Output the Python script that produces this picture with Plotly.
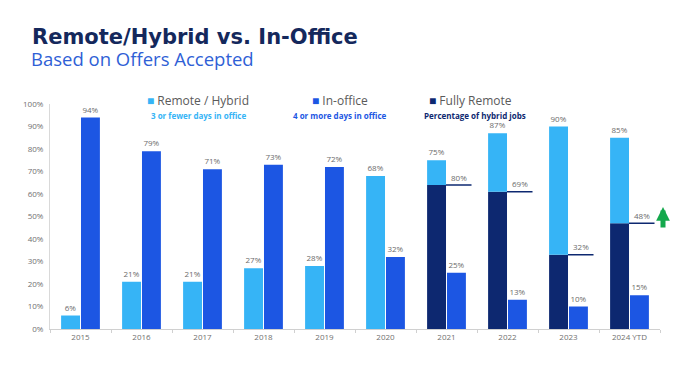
import plotly.graph_objects as go

categories = ["2015", "2016", "2017", "2018", "2019", "2020", "2021", "2022", "2023", "2024 YTD"]
remote_hybrid_total = [6, 21, 21, 27, 28, 68, 75, 87, 90, 85]
in_office = [94, 79, 71, 73, 72, 32, 25, 13, 10, 15]
fully_remote_height = [0, 0, 0, 0, 0, 0, 64, 61, 33, 47]
fully_remote_label = [None, None, None, None, None, None, 80, 69, 32, 48]
y_ticks = [0, 10, 20, 30, 40, 50, 60, 70, 80, 90, 100]

LIGHT = "#36b4f6"
MID = "#1c56e3"
NAVY = "#0d2870"
GREEN = "#14a84c"
LABEL = "#6b6b6b"
FONT = "Open Sans"

W = 0.31
OFF_L = -0.318
OFF_R = 0.008

fig = go.Figure()

fig.add_trace(go.Bar(
    x=categories, y=fully_remote_height, width=W, offset=OFF_L,
    marker=dict(color=NAVY, line=dict(width=0)), hoverinfo="skip", showlegend=False,
))
fig.add_trace(go.Bar(
    x=categories,
    y=[t - d for t, d in zip(remote_hybrid_total, fully_remote_height)],
    base=fully_remote_height, width=W, offset=OFF_L,
    marker=dict(color=LIGHT, line=dict(width=0)),
    text=[f"{t}%" for t in remote_hybrid_total], textposition="outside",
    textfont=dict(size=8, color=LABEL, family=FONT), constraintext="none",
    cliponaxis=False, hoverinfo="skip", showlegend=False,
))
fig.add_trace(go.Bar(
    x=categories, y=in_office, width=W, offset=OFF_R,
    marker=dict(color=MID, line=dict(width=0)),
    text=[f"{v}%" for v in in_office], textposition="outside",
    textfont=dict(size=8, color=LABEL, family=FONT), constraintext="none",
    cliponaxis=False, hoverinfo="skip", showlegend=False,
))

shapes = []
annotations = []
for i, (h, lab) in enumerate(zip(fully_remote_height, fully_remote_label)):
    if lab is None:
        continue
    shapes.append(dict(type="line", xref="x", yref="y", x0=i + OFF_L + W, x1=i + 0.41,
                       y0=h, y1=h, line=dict(color=NAVY, width=1.5)))
    annotations.append(dict(x=i + 0.21, y=h, xref="x", yref="y", text=f"{lab}%",
                            showarrow=False, yshift=8,
                            font=dict(size=8, color=LABEL, family=FONT)))

# page pixel -> paper coords (page has an 8px body margin)
def px(x):
    return (x - 50) / 610.0

def py(y):
    return (329 - y) / 225.0

# green up arrow (outside the axis range, so placed in paper coords)
annotations.append(dict(x=px(663), y=py(207), xref="paper", yref="paper",
                        ax=0, ay=22, axref="pixel", ayref="pixel",
                        text="", showarrow=True, arrowhead=2,
                        arrowsize=0.55, arrowwidth=5, arrowcolor=GREEN, standoff=0))

annotations.append(dict(x=px(30), y=py(37), xref="paper", yref="paper",
                        text="<b>Remote/Hybrid vs. In-Office</b>", showarrow=False,
                        xanchor="left", yanchor="middle",
                        font=dict(size=21, color="#14285c", family="DejaVu Sans")))
annotations.append(dict(x=px(29), y=py(58), xref="paper", yref="paper",
                        text="Based on Offers Accepted", showarrow=False,
                        xanchor="left", yanchor="middle",
                        font=dict(size=18.5, color="#2f5fd6", family=FONT)))

legend_items = [
    (145, 101, LIGHT, "Remote / Hybrid", 198, "3 or fewer days in office", LIGHT),
    (310, 101, MID, "In-office", 340, "4 or more days in office", MID),
    (427, 101, NAVY, "Fully Remote", 475, "Percentage of hybrid jobs", NAVY),
]
for sx, sy, col, txt, subx, sub, subcol in legend_items:
    annotations.append(dict(x=px(sx), y=py(sy), xref="paper", yref="paper",
                            text=f"<span style='color:{col}'>■</span> {txt}",
                            showarrow=False, xanchor="left", yanchor="middle",
                            font=dict(size=12, color="#5a5a5a", family=FONT)))
    annotations.append(dict(x=px(subx), y=py(115), xref="paper", yref="paper",
                            text=f"<b>{sub}</b>", showarrow=False,
                            xanchor="center", yanchor="middle",
                            font=dict(size=8, color=subcol, family=FONT)))

fig.update_layout(
    width=679, height=378,
    margin=dict(l=42, r=27, t=96, b=57),
    paper_bgcolor="white", plot_bgcolor="white",
    barmode="overlay",
    shapes=shapes, annotations=annotations,
    xaxis=dict(type="category", range=[-0.5, 9.5], showgrid=False, zeroline=False,
               showline=True, linecolor="#d0d0d0", linewidth=1,
               tickson="boundaries", ticks="outside", ticklen=3, tickcolor="#d0d0d0",
               tickfont=dict(size=8, color="#707070", family=FONT)),
    yaxis=dict(range=[0, 100], tickvals=y_ticks, ticktext=[f"{v}%" for v in y_ticks],
               showgrid=False, zeroline=False, showline=True, linecolor="#d9d9d9",
               linewidth=1, ticks="", ticklabelstandoff=4,
               tickfont=dict(size=8, color="#707070", family=FONT)),
    font=dict(family=FONT),
)

fig.write_html("out.html")
